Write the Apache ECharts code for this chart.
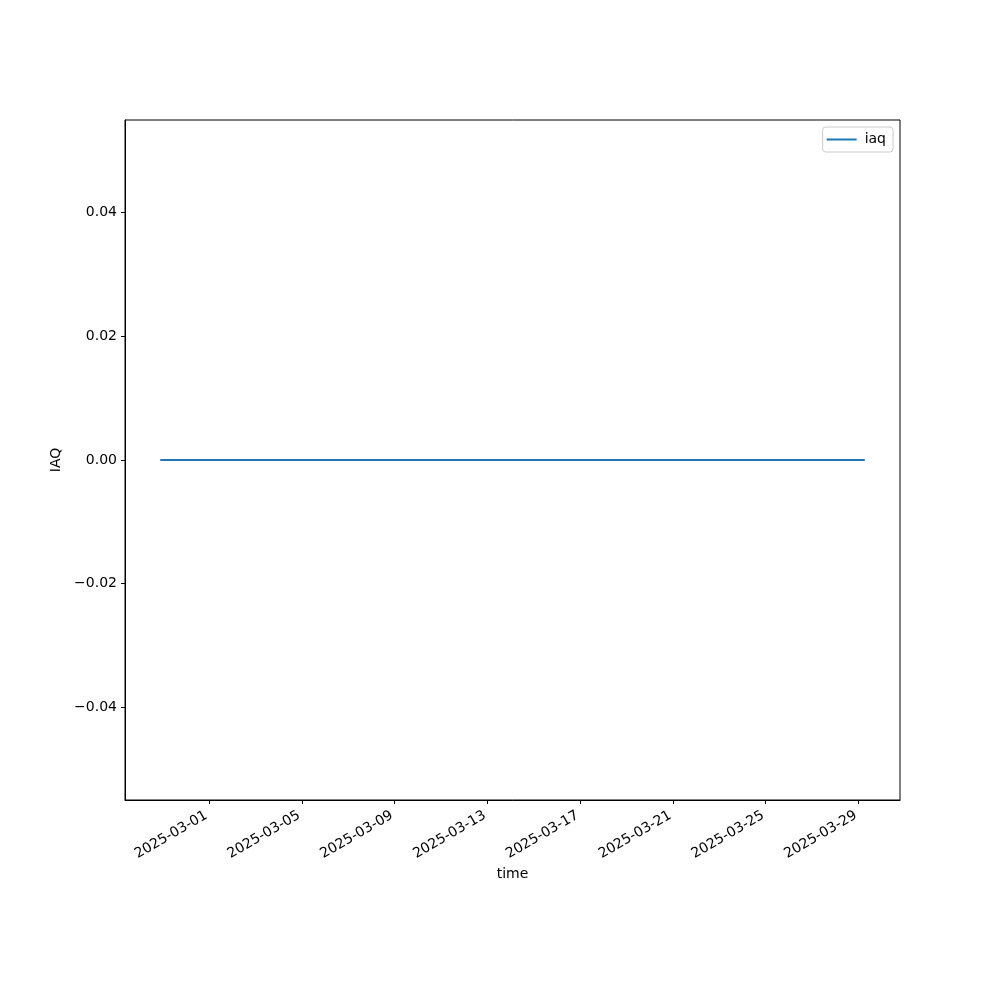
<!DOCTYPE html>
<html>
<head>
<meta charset="utf-8">
<script src="https://cdn.jsdelivr.net/npm/echarts@6/dist/echarts.min.js"></script>
<style>html,body{margin:0;padding:0;background:#fff}#c{width:1000px;height:1000px}</style>
</head>
<body>
<div id="c"></div>
<script>
// Data (UTC timestamps) – IAQ readings, flat at zero
const times = [
  '2025-02-26T21:30:00Z','2025-03-01T00:00:00Z','2025-03-05T00:00:00Z','2025-03-09T00:00:00Z',
  '2025-03-13T00:00:00Z','2025-03-17T00:00:00Z','2025-03-21T00:00:00Z','2025-03-25T00:00:00Z',
  '2025-03-29T06:30:00Z'
];
const iaq = [0, 0, 0, 0, 0, 0, 0, 0, 0];
const xTickLabels = ['2025-03-01','2025-03-05','2025-03-09','2025-03-13','2025-03-17','2025-03-21','2025-03-25','2025-03-29'];
const yTicks = [-0.04, -0.02, 0.00, 0.02, 0.04];
const yRange = [-0.055, 0.055];

const ts = times.map(t => Date.parse(t));
const xTickVals = xTickLabels.map(d => Date.parse(d + 'T00:00:00Z'));
const span = ts[ts.length - 1] - ts[0];
const xMin = ts[0] - span * 0.05;
const xMax = ts[ts.length - 1] + span * 0.05;

function pad(n){return (n < 10 ? '0' : '') + n;}
function fmtDate(v){
  const d = new Date(v);
  return d.getUTCFullYear() + '-' + pad(d.getUTCMonth() + 1) + '-' + pad(d.getUTCDate());
}

const font = 'DejaVu Sans';
const chart = echarts.init(document.getElementById('c'), null, {renderer: 'canvas'});
chart.setOption({
  animation: false,
  backgroundColor: '#fff',
  textStyle: {fontFamily: font},
  grid: {left: 125, right: 100, top: 120, bottom: 200, show: true, borderColor: '#000', borderWidth: 1, backgroundColor: 'transparent'},
  legend: {
    right: 107, top: 127,
    data: ['iaq'],
    icon: 'rect',
    backgroundColor: '#fff', borderColor: '#cccccc', borderWidth: 1, borderRadius: 3,
    padding: [5, 7, 5, 4],
    itemWidth: 30, itemHeight: 2, itemGap: 10,
    textStyle: {fontFamily: font, fontSize: 14, color: '#000', padding: [0, 0, 0, 3], lineHeight: 15}
  },
  xAxis: {
    type: 'value', min: xMin, max: xMax, scale: true,
    name: 'time', nameLocation: 'middle', nameGap: 67,
    nameTextStyle: {fontFamily: font, fontSize: 14, color: '#000'},
    axisLine: {show: true, onZero: false, lineStyle: {color: '#000', width: 1}},
    axisTick: {show: true, length: 4, lineStyle: {color: '#000'}, customValues: xTickVals},
    axisLabel: {
      customValues: xTickVals, rotate: 30, fontFamily: font, fontSize: 14, color: '#000', margin: 13,
      padding: [0, 3, 0, 0],
      formatter: v => fmtDate(v), hideOverlap: false, showMinLabel: true, showMaxLabel: true
    },
    splitLine: {show: false}
  },
  yAxis: {
    type: 'value', min: yRange[0], max: yRange[1],
    name: 'IAQ', nameLocation: 'middle', nameGap: 51, nameRotate: 90,
    nameTextStyle: {fontFamily: font, fontSize: 14, color: '#000'},
    axisLine: {show: true, lineStyle: {color: '#000', width: 1}},
    axisTick: {show: true, length: 4, lineStyle: {color: '#000'}, customValues: yTicks},
    axisLabel: {
      customValues: yTicks, fontFamily: font, fontSize: 14, color: '#000', margin: 8,
      formatter: v => v.toFixed(2).replace('-', '\u2212')
    },
    splitLine: {show: false}
  },
  series: [{
    name: 'iaq', type: 'line', symbol: 'none',
    data: ts.map((t, i) => [t, iaq[i]]),
    lineStyle: {color: '#1f77b4', width: 2},
    itemStyle: {color: '#1f77b4'}
  }]
});
</script>
</body>
</html>
